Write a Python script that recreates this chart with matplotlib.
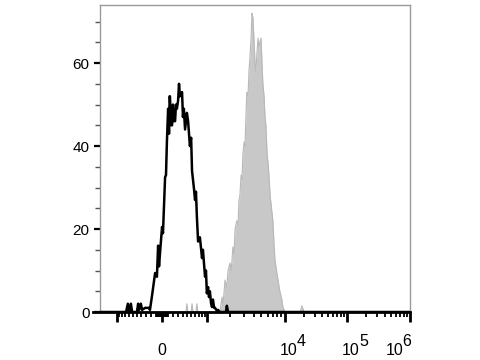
import numpy as np
import matplotlib.pyplot as plt

plt.rcParams['font.family'] = ['Liberation Sans', 'DejaVu Sans']

# display channels (0-1024) and event counts
ctrl_x = [0, 86, 92, 96, 102, 106, 122, 126, 129, 135, 139, 149, 162, 165, 172, 182, 188, 192,
          195, 198, 205, 208, 215, 218, 221, 225, 228, 230, 231, 235, 238, 241, 244, 248, 251,
          254, 258, 261, 264, 271, 274, 277, 281, 287, 291, 297, 301, 304, 310, 314, 317, 320,
          324, 330, 337, 340, 347, 350, 353, 357, 360, 363, 367, 370, 373, 377, 380, 386, 390,
          396, 416, 419, 423, 429, 1024]
ctrl_y = [0, 0, 2, 0, 2, 0, 0, 2, 0.5, 2, 0.5, 1, 1, 0.5, 4, 9.4, 8.5, 16,
          11, 14, 20.5, 19, 32.5, 33, 41, 49, 43, 52, 52, 45, 45, 50, 46, 46, 50,
          49, 51, 55, 52, 53, 47, 49, 44, 48, 46, 40, 42, 34, 30, 27, 29, 23,
          17, 18, 13, 15, 8.5, 10, 4.5, 6, 3.6, 5, 2, 1.2, 3, 1, 1, 0.3, 0.5,
          0, 0, 1.5, 0, 0, 0]

stain_x = [0, 284, 287, 290, 301, 304, 307, 317, 320, 323, 396, 400, 403, 406, 410, 413, 419,
           423, 429, 433, 436, 439, 443, 446, 452, 456, 459, 462, 466, 469, 472, 476, 479,
           482, 485, 489, 492, 495, 499, 502, 505, 509, 512, 515, 518, 522, 525, 528, 532,
           535, 538, 542, 545, 548, 552, 555, 558, 562, 565, 568, 571, 575, 578, 581, 585,
           588, 594, 601, 604, 611, 661, 667, 674, 1024]
stain_y = [0, 0, 2, 0, 0, 2, 0, 0, 2, 0, 0, 2, 3.6, 1.5, 5, 7.7, 6,
           10, 11.8, 10, 12.5, 15.7, 14, 20, 22, 21, 27, 28, 33, 32, 38, 41, 40,
           47, 53, 52, 58, 61, 66, 72, 71, 65, 60, 58, 62, 66, 64, 65, 66,
           60, 55, 52, 47, 45, 38, 36, 33, 28, 26, 24, 22, 16, 12.5, 11, 9,
           7.7, 5, 2.9, 1.2, 0, 0, 1.5, 0, 0]

# axis ticks (display channels)
major_ticks = [56, 205, 353, 611, 816, 1024]
tick_bases = ['0', '10', '10', '10']
tick_exps = ['', '4', '5', '6']

fig = plt.figure(figsize=(4.8, 3.6), dpi=100)
ax = fig.add_axes([100 / 480, 1 - 312 / 360, 310 / 480, 307 / 360])

ax.fill_between(stain_x, stain_y, color='#c8c8c8', linewidth=0, zorder=2)
ax.plot(stain_x, stain_y, color='#b8b8b8', lw=0.8, zorder=2)
ax.plot(ctrl_x, ctrl_y, color='black', lw=1.8, zorder=3)

ax.set_xlim(0, 1024)
ax.set_ylim(0, 74)

# minor ticks: log decades plus compressed region around zero
minor = []
for a, b in [(353, 611), (611, 816), (816, 1024)]:
    minor += [a + (b - a) * np.log10(k) for k in range(2, 10)]
pos_side = [241, 258, 274, 287, 301, 314, 327, 337, 347]
minor += pos_side + [410 - p for p in pos_side]
minor += list(range(186, 226, 3))

ax.set_xticks(major_ticks)
ax.set_xticklabels([])
ax.set_xticks(minor, minor=True)
ax.tick_params(axis='x', which='major', direction='out', length=7, width=2, color='black')
ax.tick_params(axis='x', which='minor', direction='out', length=3.5, width=1.3, color='black')

label_pos = [205, 623, 828, 972]
for p, b, e in zip(label_pos, tick_bases, tick_exps):
    ax.text(p, -0.127, b, transform=ax.get_xaxis_transform(), ha='center', va='center',
            fontsize=11.5)
    if e:
        ax.annotate(e, xy=(p, -0.127), xycoords=ax.get_xaxis_transform(),
                    xytext=(6, 7), textcoords='offset points', ha='left', va='center',
                    fontsize=11.5)

ax.set_yticks([0, 20, 40, 60])
ax.set_yticks(np.arange(0, 71, 5), minor=True)
ax.tick_params(axis='y', which='major', length=4.5, width=1.6, color='black', labelsize=11, pad=3)
ax.tick_params(axis='y', which='minor', length=3.5, width=1, color='#555555')

for s in ['left', 'top', 'right']:
    ax.spines[s].set_color('#9a9a9a')
    ax.spines[s].set_linewidth(1)
ax.spines['bottom'].set_visible(False)
ax.plot([-0.023, 1], [0, 0], transform=ax.transAxes, color='black', lw=2, clip_on=False, zorder=4)

fig.savefig('out.png', dpi=100)
